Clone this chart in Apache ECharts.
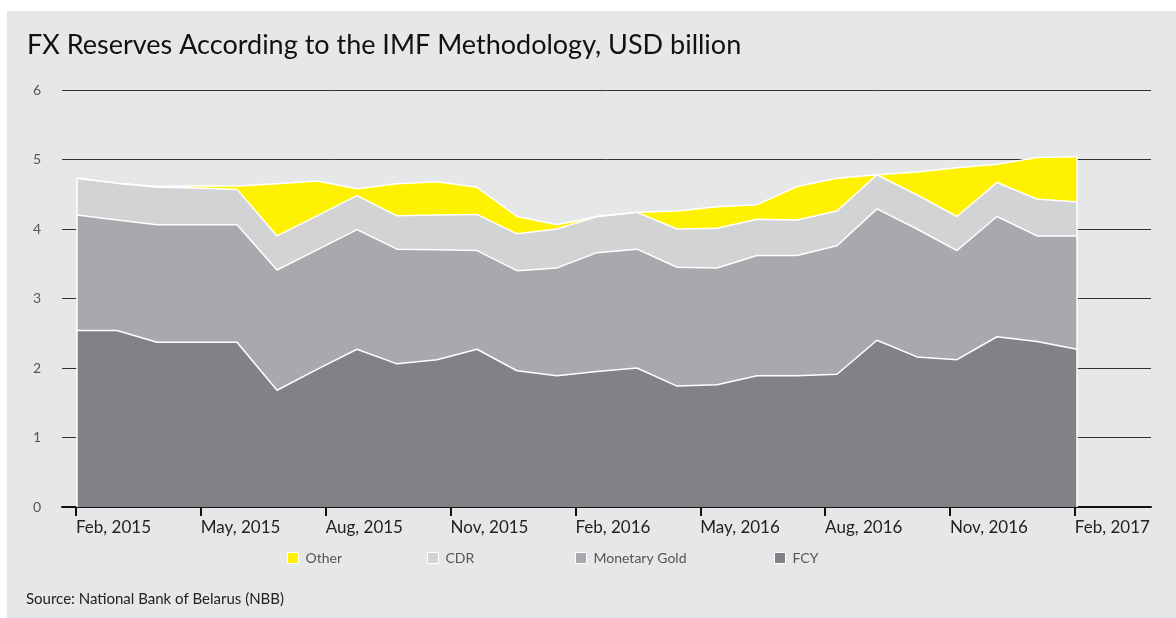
<!DOCTYPE html>
<html>
<head>
<meta charset="utf-8">
<script src="https://cdn.jsdelivr.net/npm/echarts@6/dist/echarts.min.js"></script>
<style>
  html, body { margin: 0; padding: 0; background: #fff; }
  #chart { width: 1176px; height: 618px; }
</style>
</head>
<body>
<div id="chart"></div>
<script>
// monthly observations, Feb 2015 .. Feb 2017 (26 points as drawn)
var fcy   = [2.54, 2.54, 2.37, 2.37, 2.37, 1.68, 1.98, 2.27, 2.06, 2.12, 2.27, 1.96, 1.89,
             1.95, 2.00, 1.74, 1.76, 1.89, 1.89, 1.91, 2.40, 2.16, 2.12, 2.45, 2.38, 2.27];
var gold  = [1.66, 1.59, 1.69, 1.69, 1.69, 1.73, 1.72, 1.72, 1.65, 1.58, 1.42, 1.44, 1.55,
             1.71, 1.71, 1.71, 1.68, 1.73, 1.73, 1.85, 1.89, 1.84, 1.57, 1.73, 1.52, 1.63];
var cdr   = [0.53, 0.53, 0.54, 0.53, 0.51, 0.49, 0.49, 0.49, 0.48, 0.50, 0.52, 0.53, 0.56,
             0.52, 0.53, 0.55, 0.57, 0.52, 0.51, 0.50, 0.49, 0.49, 0.49, 0.49, 0.53, 0.49];
var other = [0.00, 0.00, 0.01, 0.03, 0.05, 0.75, 0.50, 0.10, 0.46, 0.48, 0.39, 0.25, 0.06,
             0.00, 0.00, 0.26, 0.31, 0.21, 0.48, 0.47, 0.00, 0.33, 0.70, 0.26, 0.60, 0.65];

// tick labels every 3 months (months since Feb 2015)
var tickMonths = [0, 3, 6, 9, 12, 15, 18, 21, 24];
var tickLabels = ['Feb, 2015', 'May, 2015', 'Aug, 2015', 'Nov, 2015', 'Feb, 2016',
                  'May, 2016', 'Aug, 2016', 'Nov, 2016', 'Feb, 2017'];

var names = ['Other', 'CDR', 'Monetary Gold', 'FCY'];
var colors = { 'Other': '#fff200', 'CDR': '#d1d3d4', 'Monetary Gold': '#a7a9ac', 'FCY': '#808285' };

var cats = [];
for (var i = 0; i < fcy.length; i++) cats.push(String(i));
var last = fcy.length - 1;
var totalFirst = fcy[0] + gold[0] + cdr[0] + other[0];
var totalLast = fcy[last] + gold[last] + cdr[last] + other[last];

var FONT = 'Lato, "Noto Sans", sans-serif';

function areaSeries(name, data) {
    return {
        name: name,
        type: 'line',
        xAxisIndex: 1,
        yAxisIndex: 1,
        stack: 'total',
        data: data,
        symbol: 'none',
        smooth: false,
        color: colors[name],
        lineStyle: { color: '#ffffff', width: 1.5 },
        areaStyle: { color: colors[name], opacity: 1 },
        emphasis: { disabled: true }
    };
}

function legendAt(name, left) {
    return {
        data: [name],
        left: left,
        top: 551,
        padding: 0,
        icon: 'rect',
        itemWidth: 11,
        itemHeight: 11,
        itemStyle: { borderColor: '#ffffff', borderWidth: 1 },
        textStyle: { color: '#555', fontSize: 14, fontFamily: FONT, padding: [0, 0, 0, 2] }
    };
}

var chart = echarts.init(document.getElementById('chart'), null, { renderer: 'canvas' });

var option = {
    backgroundColor: '#ffffff',
    animation: false,
    graphic: [
        { type: 'rect', z: -100, shape: { x: 7, y: 11, width: 1169, height: 607 }, style: { fill: '#e6e7e8' } },
        { type: 'text', left: 26, top: 592, style: { text: 'Source: National Bank of Belarus (NBB)', fill: '#222', font: '15px ' + FONT } }
    ],
    title: {
        text: 'FX Reserves According to the IMF Methodology, USD billion',
        left: 22,
        top: 27,
        textStyle: { color: '#111', fontSize: 27, fontWeight: 'normal', fontFamily: FONT }
    },
    legend: [
        legendAt('Other', 287),
        legendAt('CDR', 427),
        legendAt('Monetary Gold', 575),
        legendAt('FCY', 774)
    ],
    grid: [
        { left: 62, right: 25, top: 90, bottom: 111 },
        { left: 77, right: 99, top: 90, bottom: 111 }
    ],
    xAxis: [
        {
            gridIndex: 0,
            type: 'value',
            min: -0.336,
            max: 25.83,
            axisLine: { show: true, lineStyle: { color: '#111', width: 2 } },
            axisTick: { show: true, length: 9, lineStyle: { color: '#111', width: 2 }, customValues: tickMonths },
            axisLabel: {
                customValues: tickMonths,
                align: 'left',
                margin: 12,
                color: '#222',
                fontSize: 17,
                fontFamily: FONT,
                formatter: function (v) {
                    var k = tickMonths.indexOf(Math.round(v));
                    return k >= 0 ? tickLabels[k] : '';
                }
            },
            splitLine: { show: false }
        },
        {
            gridIndex: 1,
            type: 'category',
            data: cats,
            boundaryGap: false,
            show: false
        }
    ],
    yAxis: [
        {
            gridIndex: 0,
            type: 'value',
            min: 0,
            max: 6,
            interval: 1,
            axisLine: { show: false },
            axisTick: { show: false },
            axisLabel: { margin: 21, color: '#555', fontSize: 14, fontFamily: FONT },
            splitLine: { show: true, lineStyle: { color: '#333', width: 1 } }
        },
        {
            gridIndex: 1,
            type: 'value',
            min: 0,
            max: 6,
            show: false
        }
    ],
    series: [
        areaSeries('FCY', fcy),
        areaSeries('Monetary Gold', gold),
        areaSeries('CDR', cdr),
        (function () {
            var s = areaSeries('Other', other);
            s.markLine = {
                silent: true,
                symbol: 'none',
                label: { show: false },
                lineStyle: { color: '#ffffff', width: 1.5, type: 'solid' },
                data: [
                    [{ coord: [0, 0] }, { coord: [0, totalFirst] }],
                    [{ coord: [last, 0] }, { coord: [last, totalLast] }]
                ]
            };
            return s;
        })()
    ]
};

chart.setOption(option);
</script>
</body>
</html>
